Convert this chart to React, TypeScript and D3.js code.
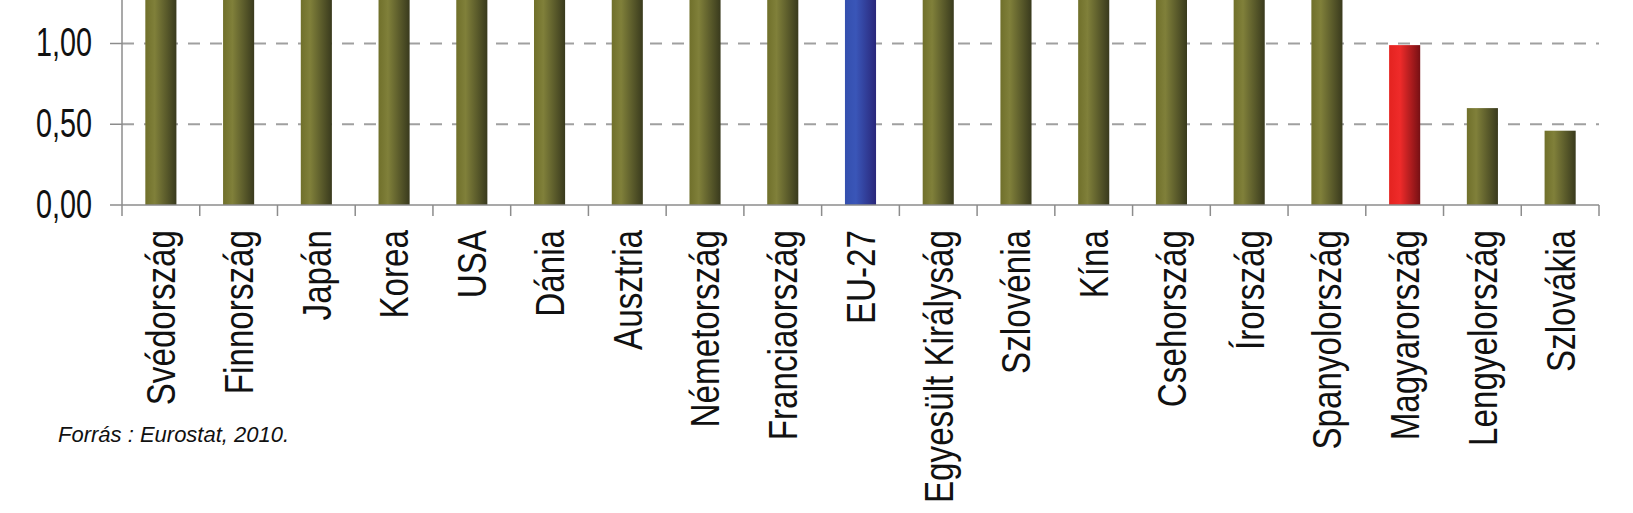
import React from 'react';
import * as d3 from 'd3';

// R&D expenditure (% of GDP); bars above ~1.28 are cut off by the frame
const countries = [
  'Svédország', 'Finnország', 'Japán', 'Korea', 'USA', 'Dánia', 'Ausztria',
  'Németország', 'Franciaország', 'EU-27', 'Egyesült Királyság', 'Szlovénia',
  'Kína', 'Csehország', 'Írország', 'Spanyolország', 'Magyarország',
  'Lengyelország', 'Szlovákia',
];
const values = [
  3.75, 3.72, 3.44, 3.21, 2.77, 2.72, 2.67, 2.64, 2.02, 1.9, 1.88, 1.66,
  1.54, 1.47, 1.43, 1.35, 0.99, 0.6, 0.46,
];
const yTicks = [0, 0.5, 1, 1.5, 2, 2.5, 3, 3.5, 4];
const source = 'Forrás : Eurostat, 2010.';

const W = 1633;
const H = 513;
const left = 122;
const right = 1599;
const zeroY = 205;
const unit = 161.5;

const x = d3.scaleBand<string>()
  .domain(countries)
  .range([left, right])
  .paddingInner(0.6)
  .paddingOuter(0.3);

const xEdge = d3.scaleBand<string>().domain(countries).range([left, right]);

const y = d3.scaleLinear().domain([0, 4]).range([zeroY, zeroY - 4 * unit]);

const fmt = (v: number) => d3.format('.2f')(v).replace('.', ',');

const fillFor = (c: string) =>
  c === 'EU-27' ? 'url(#gBlue)' : c === 'Magyarország' ? 'url(#gRed)' : 'url(#gOlive)';

const App: React.FC = () => {
  const font = '"Liberation Sans", Arial, sans-serif';
  const edges = countries.map(c => xEdge(c)!).concat([right]);
  // only the ticks that fall inside the frame get a label
  const visibleTicks = yTicks.filter(t => y(t) > 20);

  return (
    <svg width={W} height={H} style={{ position: 'absolute', left: 0, top: 0, background: '#fff' }}>
      <defs>
        <linearGradient id="gOlive" x1="0" x2="1" y1="0" y2="0">
          <stop offset="0" stopColor="#70702b" />
          <stop offset="0.3" stopColor="#80803a" />
          <stop offset="1" stopColor="#393a1d" />
        </linearGradient>
        <linearGradient id="gRed" x1="0" x2="1" y1="0" y2="0">
          <stop offset="0" stopColor="#e42320" />
          <stop offset="0.35" stopColor="#ef2b2a" />
          <stop offset="1" stopColor="#761014" />
        </linearGradient>
        <linearGradient id="gBlue" x1="0" x2="1" y1="0" y2="0">
          <stop offset="0" stopColor="#344fae" />
          <stop offset="0.35" stopColor="#3a56b8" />
          <stop offset="1" stopColor="#29277a" />
        </linearGradient>
      </defs>

      {/* grid lines */}
      {yTicks.filter(t => t > 0).map(t => (
        <g key={t}>
          <line x1={110} x2={left} y1={y(t)} y2={y(t)} stroke="#8c8c8c" strokeWidth={1.5} />
          <line x1={left} x2={right} y1={y(t)} y2={y(t)} stroke="#a0a0a0"
            strokeWidth={2} strokeDasharray="12,10" />
        </g>
      ))}

      {/* bars */}
      {countries.map((c, i) => (
        <rect key={c} x={x(c)} width={x.bandwidth()} y={y(values[i])}
          height={zeroY - y(values[i])} fill={fillFor(c)} />
      ))}

      {/* axes */}
      <line x1={left} x2={left} y1={zeroY} y2={y(4)} stroke="#8c8c8c" strokeWidth={1.5} />
      <line x1={110} x2={right} y1={zeroY} y2={zeroY} stroke="#8c8c8c" strokeWidth={1.5} />
      {edges.map((e, i) => (
        <line key={i} x1={e} x2={e} y1={zeroY} y2={zeroY + 11} stroke="#8c8c8c" strokeWidth={1.5} />
      ))}

      {/* y tick labels */}
      {visibleTicks.map(t => (
        <text key={t} transform={`translate(92,${y(t)}) scale(0.72,1)`} dy="0.32em"
          textAnchor="end" fontFamily={font} fontSize={40} fill="#111">
          {fmt(t)}
        </text>
      ))}

      {/* category labels */}
      {countries.map(c => (
        <text key={c}
          transform={`translate(${xEdge(c)! + xEdge.bandwidth() / 2},230) rotate(-90) scale(0.83,1)`}
          dy="0.36em" textAnchor="end" fontFamily={font} fontSize={40} fill="#111">
          {c}
        </text>
      ))}

      <text x={58} y={442} fontFamily={font} fontStyle="italic" fontSize={22} fill="#111">
        {source}
      </text>
    </svg>
  );
};

export default App;
